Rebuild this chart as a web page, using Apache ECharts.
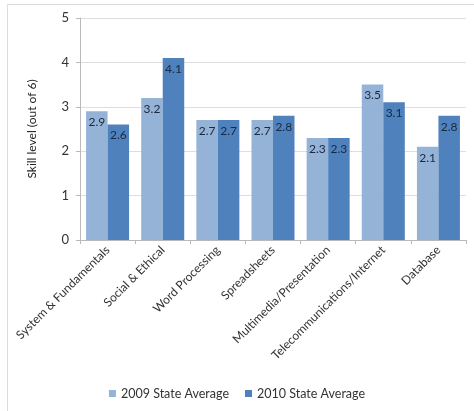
<!DOCTYPE html>
<html>
<head>
<meta charset="utf-8">
<script src="https://cdn.jsdelivr.net/npm/echarts@6/dist/echarts.min.js"></script>
<style>
  html, body { margin: 0; padding: 0; background: #fff; }
  #chart { width: 474px; height: 411px; }
</style>
</head>
<body>
<div id="chart"></div>
<script>
// Skill areas assessed
const categories = [
  'System & Fundamentals',
  'Social & Ethical',
  'Word Processing',
  'Spreadsheets',
  'Multimedia/Presentation',
  'Telecommunications/Internet',
  'Database'
];

// State averages per year (skill level, out of 6)
const avg2009 = [2.9, 3.2, 2.7, 2.7, 2.3, 3.5, 2.1];
const avg2010 = [2.6, 4.1, 2.7, 2.8, 2.3, 3.1, 2.8];

const seriesNames = ['2009 State Average', '2010 State Average'];
const yTicks = [0, 1, 2, 3, 4, 5];

const FONT = 'Lato, "Open Sans", sans-serif';

const chart = echarts.init(document.getElementById('chart'), null, { renderer: 'canvas' });

const labelStyle = {
  show: true,
  position: 'insideTop',
  distance: 5,
  color: '#1a2840',
  fontFamily: FONT,
  fontSize: 12,
  formatter: p => p.value.toFixed(1)
};

chart.setOption({
  animation: false,
  backgroundColor: '#fff',
  graphic: [{
    type: 'rect',
    shape: { x: 7.5, y: 4.5, width: 480, height: 420 },
    style: { fill: 'none', stroke: '#dcdcdc', lineWidth: 1 },
    silent: true,
    z: -10
  }],
  grid: { left: 80, right: 8, top: 18, bottom: 171, containLabel: false },
  legend: {
    data: seriesNames,
    bottom: 6,
    left: 'center',
    itemWidth: 7,
    itemHeight: 7,
    itemGap: 16,
    icon: 'rect',
    textStyle: { fontFamily: FONT, fontSize: 12.5, color: '#333' }
  },
  xAxis: {
    type: 'category',
    data: categories,
    axisLine: { lineStyle: { color: '#b9b9b9' } },
    axisTick: { show: true, length: 4, lineStyle: { color: '#b9b9b9' } },
    axisLabel: {
      rotate: 45,
      interval: 0,
      margin: 8,
      fontFamily: FONT,
      fontSize: 12,
      color: '#333'
    }
  },
  yAxis: {
    type: 'value',
    min: 0,
    max: yTicks[yTicks.length - 1],
    interval: 1,
    name: 'Skill level (out of 6)',
    nameLocation: 'middle',
    nameGap: 42,
    nameTextStyle: { fontFamily: FONT, fontSize: 12, color: '#222' },
    axisLine: { show: true, lineStyle: { color: '#b9b9b9' } },
    axisTick: { show: true, length: 4, lineStyle: { color: '#b9b9b9' } },
    axisLabel: { fontFamily: FONT, fontSize: 13, color: '#333', margin: 11 },
    splitLine: { lineStyle: { color: '#dedede' } }
  },
  series: [
    {
      name: seriesNames[0],
      type: 'bar',
      data: avg2009,
      barGap: '0%',
      barCategoryGap: '22%',
      itemStyle: { color: '#95b3d7' },
      label: labelStyle
    },
    {
      name: seriesNames[1],
      type: 'bar',
      data: avg2010,
      itemStyle: { color: '#4f81bd' },
      label: labelStyle
    }
  ]
});
</script>
</body>
</html>
